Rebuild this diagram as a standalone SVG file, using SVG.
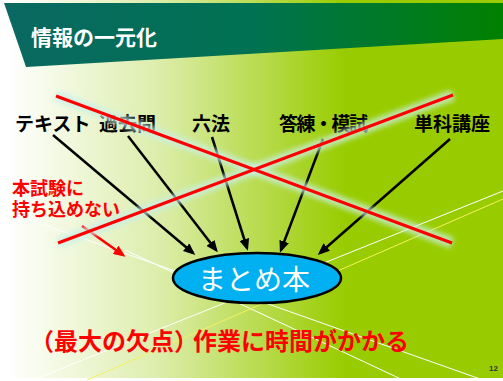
<svg xmlns="http://www.w3.org/2000/svg" width="503" height="381" viewBox="0 0 503 381">
<defs>
<linearGradient id="bg" gradientUnits="userSpaceOnUse" x1="8" y1="0" x2="345" y2="0">
<stop offset="0" stop-color="#ffffff"/>
<stop offset="0.45" stop-color="#dcedaa"/>
<stop offset="1" stop-color="#99cc00"/>
</linearGradient>
<linearGradient id="hd" gradientUnits="userSpaceOnUse" x1="0" y1="0" x2="503" y2="0">
<stop offset="0" stop-color="#0a6862"/>
<stop offset="0.5" stop-color="#007252"/>
<stop offset="1" stop-color="#008000"/>
</linearGradient>
<filter id="glow" x="-10%" y="-30%" width="120%" height="160%">
<feGaussianBlur stdDeviation="2.5"/>
</filter>
<marker id="ah" markerUnits="userSpaceOnUse" markerWidth="12" markerHeight="10" refX="9" refY="5" orient="auto">
<path d="M0,0 L12,5 L0,10 z" fill="#000"/>
</marker>
<marker id="ahr" markerUnits="userSpaceOnUse" markerWidth="12" markerHeight="10" refX="9" refY="5" orient="auto">
<path d="M0,0 L12,5 L0,10 z" fill="#ff0000"/>
</marker>
<style>
.lbl{font-family:"Liberation Sans","Noto Sans CJK JP",sans-serif;font-weight:bold;font-size:19px;fill:#000}
.red{font-family:"Liberation Sans","Noto Sans CJK JP",sans-serif;font-weight:bold;fill:#ff0000}
.arr{stroke:#000;stroke-width:2.5;fill:none;marker-end:url(#ah)}
.bgl{stroke-width:1;fill:none}
.xg{stroke:#c8f0e8;stroke-width:11;opacity:0.75;filter:url(#glow);fill:none}
.xr{stroke:#ff0000;stroke-width:3;fill:none}
</style>
</defs>
<rect x="0" y="0" width="503" height="381" fill="#ffffff"/>
<rect x="0" y="0" width="503" height="378" fill="url(#bg)"/>
<g id="bglines">
<line class="bgl" x1="25" y1="218" x2="483" y2="380" stroke="#ffffff"/>
<line class="bgl" x1="125" y1="250" x2="403" y2="380" stroke="#ffffff"/>
<line class="bgl" x1="33" y1="380" x2="503" y2="191" stroke="#ffffff"/>
<line class="bgl" x1="87" y1="380" x2="503" y2="199" stroke="#f4f060"/>
</g>
<g id="header">
<polygon points="4,3 503,3 503,39 26,67" fill="url(#hd)"/>
<text x="31" y="45" font-family="Liberation Sans,'Noto Sans CJK JP',sans-serif" font-weight="bold" font-size="21" fill="#ffffff">情報の一元化</text>
</g>
<g id="node-matome">
<ellipse cx="257" cy="278" rx="84" ry="25" fill="#00b0f0" stroke="#000" stroke-width="2.5"/>
<text x="254" y="290" text-anchor="middle" font-family="Liberation Sans,'Noto Sans CJK JP',sans-serif" font-size="28" fill="#ffffff">まとめ本</text>
</g>
<g id="connectors">
<line class="arr" x1="53" y1="135" x2="193" y2="253"/>
<line class="arr" x1="128" y1="136" x2="216" y2="250"/>
<line class="arr" x1="212" y1="137" x2="247" y2="248"/>
<line class="arr" x1="323" y1="139" x2="281" y2="250"/>
<line class="arr" x1="450" y1="139" x2="320" y2="253"/>
<line x1="82" y1="226" x2="123" y2="255" stroke="#ff0000" stroke-width="2.5" marker-end="url(#ahr)"/>
</g>
<g id="node-text"><text class="lbl" x="15" y="131">テキスト</text></g>
<g id="node-kakomon"><text class="lbl" x="99" y="131">過去問</text></g>
<g id="node-roppo"><text class="lbl" x="192" y="131">六法</text></g>
<g id="node-toren"><text class="lbl" x="279" y="131" textLength="89" lengthAdjust="spacing">答練・模試</text></g>
<g id="node-tanka"><text class="lbl" x="414" y="131">単科講座</text></g>
<g id="cross">
<line class="xg" x1="56" y1="96" x2="452" y2="243"/>
<line class="xg" x1="58" y1="243" x2="453" y2="95"/>
<line class="xr" x1="56" y1="96" x2="452" y2="243"/>
<line class="xr" x1="58" y1="243" x2="453" y2="95"/>
</g>
<g id="note">
<text class="red" x="12" y="195" font-size="18">本試験に</text>
<text class="red" x="12" y="216" font-size="18">持ち込めない</text>
</g>
<g id="bottom">
<text class="red" x="30" y="350" font-size="24">（最大の欠点）<tspan dx="-5">作業に時間がかかる</tspan></text>
</g>
<g id="page"><text x="498" y="371" text-anchor="end" font-family="Liberation Sans,sans-serif" font-size="8" font-weight="bold" fill="#333">12</text></g>
</svg>
